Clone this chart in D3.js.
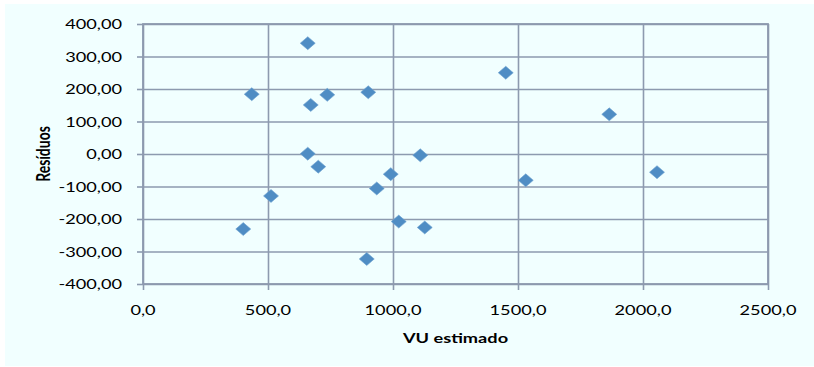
<!DOCTYPE html>
<html>
<head>
<meta charset="utf-8">
<script src="https://cdn.jsdelivr.net/npm/d3@7"></script>
<style>
  html, body { margin: 0; padding: 0; background: #ffffff; }
  svg { display: block; }
  text { font-family: Lato, "Open Sans", sans-serif; fill: #000; }
</style>
</head>
<body>
<svg id="chart" width="814" height="367"></svg>
<script>
// ---- data ----
const vuEstimado = [659, 435, 737, 671, 901, 659, 701, 512, 401, 935, 991, 895, 1451, 1865, 1109, 1531, 2056, 1023, 1127];
const residuos   = [341, 184, 182, 151, 190, 1, -39, -129, -231, -106, -62, -323, 250, 122, -4, -81, -56, -208, -226];
const xTicks = [0, 500, 1000, 1500, 2000, 2500];
const yTicks = [-400, -300, -200, -100, 0, 100, 200, 300, 400];
const xTitle = "VU estimado";
const yTitle = "Resíduos";

// ---- layout ----
const svg = d3.select("#chart");
const L = 143, R = 768, T = 24, B = 284;
const SX = 1.3; // horizontal stretch of the text in the reference
const gridColor = "#8D9AAF";

const x = d3.scaleLinear().domain([0, 2500]).range([L, R]);
const y = d3.scaleLinear().domain([-400, 400]).range([B, T]);

const loc = d3.formatLocale({decimal: ",", thousands: "", grouping: [3], currency: ["", ""], minus: "-"});
const fx = loc.format(".1f");
const fy = loc.format(".2f");

// chart background
svg.append("rect").attr("x", 5).attr("y", 4).attr("width", 809).attr("height", 362).attr("fill", "#F1FFFF");

// gridlines via axes
svg.append("g")
  .attr("transform", `translate(0,${B})`)
  .call(d3.axisBottom(x).tickValues(xTicks).tickSize(-(B - T)).tickFormat(""))
  .call(g => g.select(".domain").remove())
  .call(g => g.selectAll("line").attr("stroke", gridColor).attr("stroke-width", 1.6));
svg.append("g")
  .attr("transform", `translate(${L},0)`)
  .call(d3.axisLeft(y).tickValues(yTicks).tickSize(-(R - L)).tickFormat(""))
  .call(g => g.select(".domain").remove())
  .call(g => g.selectAll("line").attr("stroke", gridColor).attr("stroke-width", 1.6));

// outer tick marks
svg.append("g")
  .attr("transform", `translate(0,${B})`)
  .call(d3.axisBottom(x).tickValues(xTicks).tickSize(6).tickFormat(""))
  .call(g => g.select(".domain").remove())
  .call(g => g.selectAll("line").attr("stroke", gridColor).attr("stroke-width", 1.6));
svg.append("g")
  .attr("transform", `translate(${L},0)`)
  .call(d3.axisLeft(y).tickValues(yTicks).tickSize(6).tickFormat(""))
  .call(g => g.select(".domain").remove())
  .call(g => g.selectAll("line").attr("stroke", gridColor).attr("stroke-width", 1.6));

// plot border / axis lines
svg.append("rect").attr("x", L).attr("y", T).attr("width", R - L).attr("height", B - T)
  .attr("fill", "none").attr("stroke", gridColor).attr("stroke-width", 1.8);

// tick labels
svg.append("g").selectAll("text").data(yTicks).join("text")
  .attr("transform", d => `translate(122,${y(d) + 5}) scale(${SX},1)`)
  .attr("text-anchor", "end").attr("font-size", 14)
  .text(d => fy(d));
svg.append("g").selectAll("text").data(xTicks).join("text")
  .attr("transform", d => `translate(${x(d)},${B + 31}) scale(${SX},1)`)
  .attr("text-anchor", "middle").attr("font-size", 14)
  .text(d => fx(d));

// axis titles
svg.append("text")
  .attr("transform", `translate(${(L + R) / 2},${B + 59}) scale(${SX},1)`)
  .attr("text-anchor", "middle").attr("font-size", 14).attr("font-weight", "bold")
  .text(xTitle);
svg.append("text")
  .attr("transform", `translate(50,${(T + B) / 2}) rotate(-90) scale(1,${SX})`)
  .attr("text-anchor", "middle").attr("font-size", 14).attr("font-weight", "bold")
  .text(yTitle);

// markers (diamonds)
const hw = 7.5, hh = 6.5;
svg.append("g").selectAll("path").data(vuEstimado.map((v, i) => [v, residuos[i]])).join("path")
  .attr("transform", d => `translate(${x(d[0])},${y(d[1])})`)
  .attr("d", `M0,${-hh}L${hw},0L0,${hh}L${-hw},0Z`)
  .attr("fill", "#4F8DC4")
  .attr("stroke", "#6FA2D0").attr("stroke-width", 0.6);
</script>
</body>
</html>
